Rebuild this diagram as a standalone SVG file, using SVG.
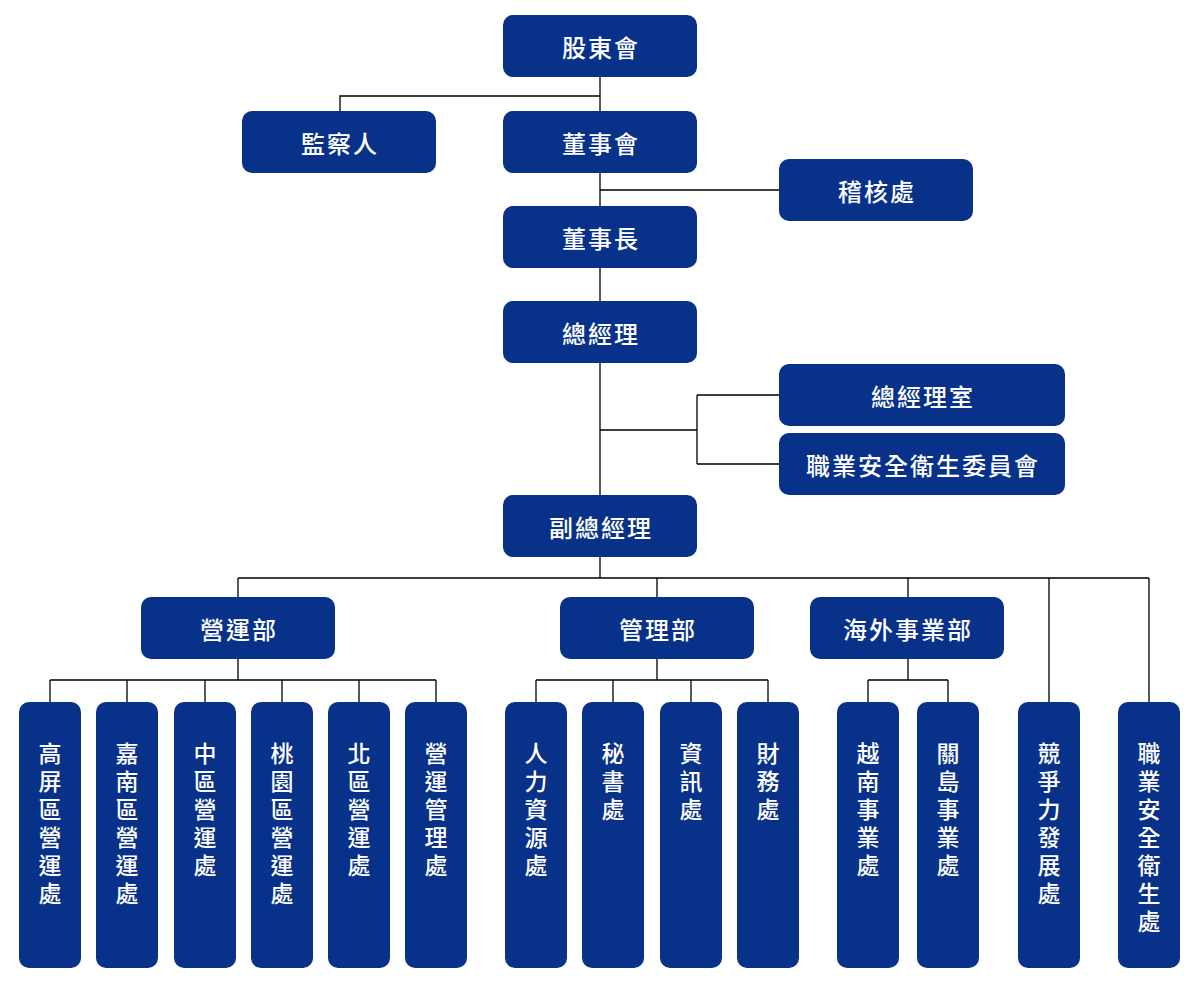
<svg xmlns="http://www.w3.org/2000/svg" width="1200" height="984" viewBox="0 0 1200 984">
<style>
.b{fill:#08318a}
.t{fill:#fff;font-family:"Noto Sans CJK TC","Noto Sans CJK SC",sans-serif;font-size:23px;font-weight:500;text-anchor:middle;dominant-baseline:central}
.h{font-size:24px;letter-spacing:2px}
.c{stroke:#000;stroke-width:1.3;fill:none}
</style>
<rect width="1200" height="984" fill="#fff"/>
<g id="connectors" class="c">
<path d="M600 77V495M340 111V96H600M600 190H779M600 430H697M697 395V464M697 395H779M697 464H779"/>
<path d="M600 557V578M238 578H1149M238 578V597M657 578V597M908 578V597M1049 578V702M1149 578V702"/>
<path d="M238 659V680M50 680H436M50 680V702M127 680V702M205 680V702M282 680V702M359 680V702M436 680V702"/>
<path d="M657 659V680M536 680H768M536 680V702M613 680V702M691 680V702M768 680V702"/>
<path d="M908 659V680M868 680H948M868 680V702M948 680V702"/>
</g>
<g id="n1"><rect class="b" x="503" y="15" width="194" height="62" rx="10"/><text class="t h" x="601" y="46">股東會</text></g>
<g id="n2"><rect class="b" x="242" y="111" width="194" height="62" rx="10"/><text class="t h" x="340" y="142">監察人</text></g>
<g id="n3"><rect class="b" x="503" y="111" width="194" height="62" rx="10"/><text class="t h" x="601" y="142">董事會</text></g>
<g id="n4"><rect class="b" x="779" y="159" width="194" height="62" rx="10"/><text class="t h" x="877" y="190">稽核處</text></g>
<g id="n5"><rect class="b" x="503" y="206" width="194" height="62" rx="10"/><text class="t h" x="601" y="237">董事長</text></g>
<g id="n6"><rect class="b" x="503" y="301" width="194" height="62" rx="10"/><text class="t h" x="601" y="332">總經理</text></g>
<g id="n7"><rect class="b" x="779" y="364" width="286" height="62" rx="10"/><text class="t h" x="923" y="395">總經理室</text></g>
<g id="n8"><rect class="b" x="779" y="433" width="286" height="62" rx="10"/><text class="t h" x="923" y="464">職業安全衛生委員會</text></g>
<g id="n9"><rect class="b" x="503" y="495" width="194" height="62" rx="10"/><text class="t h" x="601" y="526">副總經理</text></g>
<g id="n10"><rect class="b" x="141" y="597" width="194" height="62" rx="10"/><text class="t h" x="239" y="628">營運部</text></g>
<g id="n11"><rect class="b" x="560" y="597" width="194" height="62" rx="10"/><text class="t h" x="658" y="628">管理部</text></g>
<g id="n12"><rect class="b" x="810" y="597" width="194" height="62" rx="10"/><text class="t h" x="908" y="628">海外事業部</text></g>
<g id="v1"><rect class="b" x="19" y="702" width="62" height="266" rx="10"/><text class="t"><tspan x="50" y="752">高</tspan><tspan x="50" y="780">屏</tspan><tspan x="50" y="808">區</tspan><tspan x="50" y="836">營</tspan><tspan x="50" y="864">運</tspan><tspan x="50" y="892">處</tspan></text></g>
<g id="v2"><rect class="b" x="96" y="702" width="62" height="266" rx="10"/><text class="t"><tspan x="127" y="752">嘉</tspan><tspan x="127" y="780">南</tspan><tspan x="127" y="808">區</tspan><tspan x="127" y="836">營</tspan><tspan x="127" y="864">運</tspan><tspan x="127" y="892">處</tspan></text></g>
<g id="v3"><rect class="b" x="174" y="702" width="62" height="266" rx="10"/><text class="t"><tspan x="205" y="752">中</tspan><tspan x="205" y="780">區</tspan><tspan x="205" y="808">營</tspan><tspan x="205" y="836">運</tspan><tspan x="205" y="864">處</tspan></text></g>
<g id="v4"><rect class="b" x="251" y="702" width="62" height="266" rx="10"/><text class="t"><tspan x="282" y="752">桃</tspan><tspan x="282" y="780">園</tspan><tspan x="282" y="808">區</tspan><tspan x="282" y="836">營</tspan><tspan x="282" y="864">運</tspan><tspan x="282" y="892">處</tspan></text></g>
<g id="v5"><rect class="b" x="328" y="702" width="62" height="266" rx="10"/><text class="t"><tspan x="359" y="752">北</tspan><tspan x="359" y="780">區</tspan><tspan x="359" y="808">營</tspan><tspan x="359" y="836">運</tspan><tspan x="359" y="864">處</tspan></text></g>
<g id="v6"><rect class="b" x="405" y="702" width="62" height="266" rx="10"/><text class="t"><tspan x="436" y="752">營</tspan><tspan x="436" y="780">運</tspan><tspan x="436" y="808">管</tspan><tspan x="436" y="836">理</tspan><tspan x="436" y="864">處</tspan></text></g>
<g id="v7"><rect class="b" x="505" y="702" width="62" height="266" rx="10"/><text class="t"><tspan x="536" y="752">人</tspan><tspan x="536" y="780">力</tspan><tspan x="536" y="808">資</tspan><tspan x="536" y="836">源</tspan><tspan x="536" y="864">處</tspan></text></g>
<g id="v8"><rect class="b" x="582" y="702" width="62" height="266" rx="10"/><text class="t"><tspan x="613" y="752">秘</tspan><tspan x="613" y="780">書</tspan><tspan x="613" y="808">處</tspan></text></g>
<g id="v9"><rect class="b" x="660" y="702" width="62" height="266" rx="10"/><text class="t"><tspan x="691" y="752">資</tspan><tspan x="691" y="780">訊</tspan><tspan x="691" y="808">處</tspan></text></g>
<g id="v10"><rect class="b" x="737" y="702" width="62" height="266" rx="10"/><text class="t"><tspan x="768" y="752">財</tspan><tspan x="768" y="780">務</tspan><tspan x="768" y="808">處</tspan></text></g>
<g id="v11"><rect class="b" x="837" y="702" width="62" height="266" rx="10"/><text class="t"><tspan x="868" y="752">越</tspan><tspan x="868" y="780">南</tspan><tspan x="868" y="808">事</tspan><tspan x="868" y="836">業</tspan><tspan x="868" y="864">處</tspan></text></g>
<g id="v12"><rect class="b" x="917" y="702" width="62" height="266" rx="10"/><text class="t"><tspan x="948" y="752">關</tspan><tspan x="948" y="780">島</tspan><tspan x="948" y="808">事</tspan><tspan x="948" y="836">業</tspan><tspan x="948" y="864">處</tspan></text></g>
<g id="v13"><rect class="b" x="1018" y="702" width="62" height="266" rx="10"/><text class="t"><tspan x="1049" y="752">競</tspan><tspan x="1049" y="780">爭</tspan><tspan x="1049" y="808">力</tspan><tspan x="1049" y="836">發</tspan><tspan x="1049" y="864">展</tspan><tspan x="1049" y="892">處</tspan></text></g>
<g id="v14"><rect class="b" x="1118" y="702" width="62" height="266" rx="10"/><text class="t"><tspan x="1149" y="752">職</tspan><tspan x="1149" y="780">業</tspan><tspan x="1149" y="808">安</tspan><tspan x="1149" y="836">全</tspan><tspan x="1149" y="864">衛</tspan><tspan x="1149" y="892">生</tspan><tspan x="1149" y="920">處</tspan></text></g>
</svg>
